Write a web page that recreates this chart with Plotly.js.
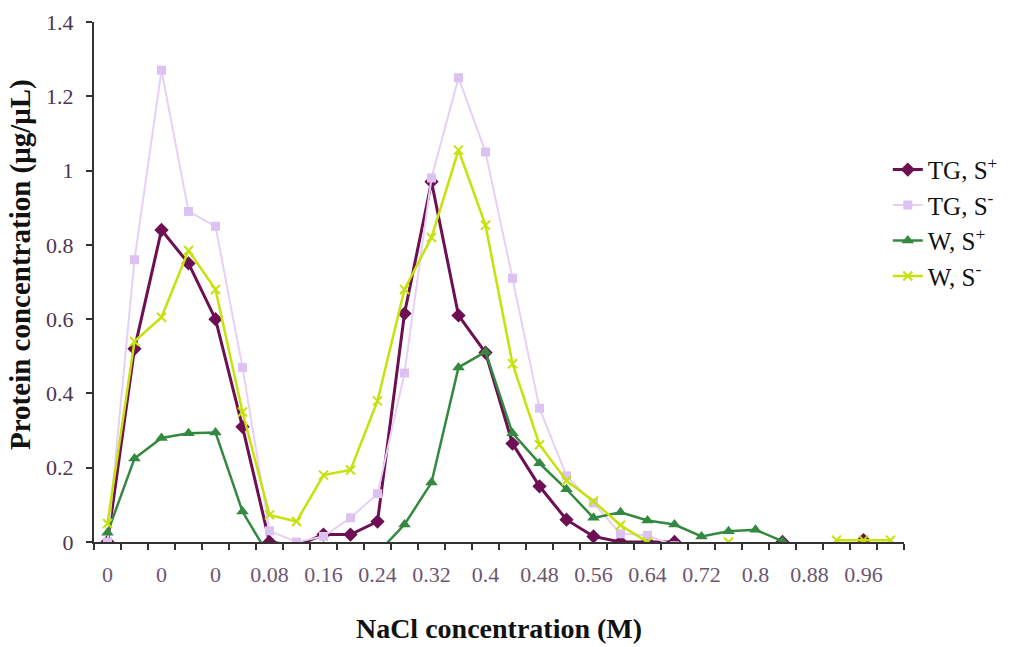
<!DOCTYPE html>
<html>
<head>
<meta charset="utf-8">
<script src="https://cdn.plot.ly/plotly-3.0.1.min.js"></script>
<style>
  html, body { margin: 0; padding: 0; background: #ffffff; }
  #chart { width: 1015px; height: 647px; }
</style>
</head>
<body>
<div id="chart"></div>
<script>
// NaCl step of each collected fraction (the first five are the loading/wash fractions)
const naclLabels = ["0", "0", "0", "0", "0", "0.04", "0.08", "0.12", "0.16", "0.2",
                    "0.24", "0.28", "0.32", "0.36", "0.4", "0.44", "0.48", "0.52", "0.56", "0.6",
                    "0.64", "0.68", "0.72", "0.76", "0.8", "0.84", "0.88", "0.92", "0.96", "1"];

// Protein concentration (µg/µL) per fraction; null = not measured / not shown
const tgSplus  = [0, 0.52, 0.84, 0.75, 0.6, 0.31, 0, -0.01, 0.02, 0.02,
                  0.055, 0.615, 0.97, 0.61, 0.51, 0.265, 0.15, 0.06, 0.015, 0,
                  0, 0, null, null, null, 0, null, null, 0.005, null];
const tgSminus = [0, 0.76, 1.27, 0.89, 0.85, 0.47, 0.03, 0, 0.015, 0.065,
                  0.13, 0.455, 0.98, 1.25, 1.05, 0.71, 0.36, 0.178, 0.105, 0.022,
                  0.018, -0.01, null, null, null, null, null, null, null, null];
const wSplus   = [0.025, 0.225, 0.28, 0.293, 0.295, 0.082, -0.04, null, null, null,
                  -0.03, 0.047, 0.16, 0.47, 0.512, 0.293, 0.212, 0.142, 0.065, 0.08,
                  0.058, 0.047, 0.015, 0.029, 0.033, 0.002, -0.02, null, null, null];
const wSminus  = [0.05, 0.54, 0.605, 0.785, 0.68, 0.35, 0.073, 0.055, 0.18, 0.194,
                  0.38, 0.68, 0.82, 1.055, 0.853, 0.48, 0.262, 0.165, 0.11, 0.045,
                  0, null, null, 0, null, null, null, 0.005, 0.005, 0.005];

const seriesNames = ["TG, S<sup>+</sup>", "TG, S<sup>-</sup>", "W, S<sup>+</sup>", "W, S<sup>-</sup>"];

const fraction = naclLabels.map((_, i) => i);
const labelIdx = fraction.filter(i => i % 2 === 0);

const serif = "'Liberation Serif', 'Times New Roman', serif";

const traces = [
  {
    x: fraction, y: tgSplus, name: seriesNames[0], legendgroup: "a",
    mode: "lines+markers", line: { color: "#6d0f52", width: 3 },
    marker: { symbol: "diamond", size: 11, color: "#6d0f52" }
  },
  {
    x: fraction, y: tgSminus, name: seriesNames[1], legendgroup: "b",
    mode: "lines+markers", line: { color: "#e6d0f6", width: 2 },
    marker: { symbol: "square", size: 9, color: "#dcc2f3" }
  },
  {
    x: fraction, y: wSplus, name: seriesNames[2], legendgroup: "c",
    mode: "lines+markers", line: { color: "#33893f", width: 2.5 },
    marker: { symbol: "triangle-up", size: 11, color: "#33893f" }
  },
  {
    x: fraction, y: wSminus, name: seriesNames[3], legendgroup: "d",
    mode: "lines+markers", line: { color: "#c6e20a", width: 2.5 },
    marker: { symbol: "x-thin", size: 9, color: "#c6e20a", line: { color: "#c6e20a", width: 2 } }
  }
];

const layout = {
  width: 1015, height: 647,
  margin: { l: 94, r: 111, t: 22, b: 105 },
  paper_bgcolor: "#ffffff", plot_bgcolor: "#ffffff",
  showlegend: true,
  legend: {
    x: 0.98, xanchor: "left", y: 0.76, yanchor: "top",
    font: { family: serif, size: 25, color: "#111111" },
    bgcolor: "rgba(0,0,0,0)", tracegroupgap: 0
  },
  xaxis: {
    range: [-0.5, 29.5],
    tickmode: "array", tickvals: labelIdx, ticktext: labelIdx.map(i => naclLabels[i]),
    ticks: "", showgrid: false, zeroline: false,
    showline: true, linecolor: "#333333", linewidth: 2,
    minor: { tickmode: "linear", tick0: 0.5, dtick: 1, ticks: "outside", ticklen: 6, tickwidth: 2, tickcolor: "#333333", showgrid: false },
    tickfont: { family: serif, size: 22, color: "#6b5670" },
    ticklabelstandoff: 12,
    title: { text: "<b>NaCl concentration (M)</b>", font: { family: serif, size: 28, color: "#111111" }, standoff: 32 }
  },
  yaxis: {
    range: [0, 1.4], tickmode: "linear", tick0: 0, dtick: 0.2,
    ticks: "outside", ticklen: 6, tickwidth: 2, tickcolor: "#333333",
    showgrid: false, zeroline: false,
    showline: true, linecolor: "#333333", linewidth: 2,
    tickfont: { family: serif, size: 22, color: "#4d3552" },
    ticklabelstandoff: 8
  },
  annotations: [
    {
      // y-axis title, set a little above the axis centre
      text: "<b>Protein concentration (μg/μL)</b>",
      xref: "paper", yref: "paper", x: -0.09, y: 0.533,
      xanchor: "center", yanchor: "middle", textangle: -90, showarrow: false,
      font: { family: serif, size: 29, color: "#111111" }
    }
  ]
};

Plotly.newPlot("chart", traces, layout, { staticPlot: true, displayModeBar: false });
</script>
</body>
</html>
